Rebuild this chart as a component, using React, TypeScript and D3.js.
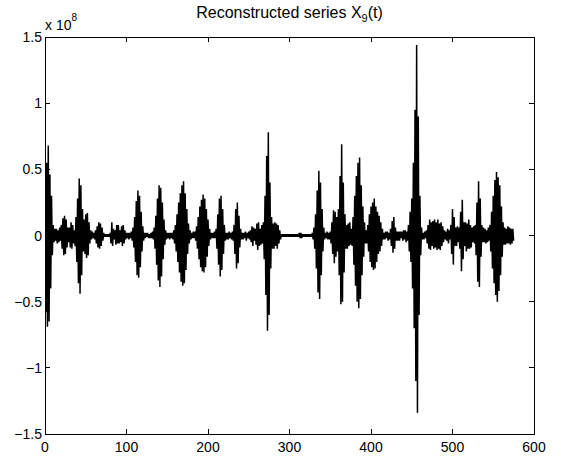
import React from "react";
import * as d3 from "d3";

// Reconstructed series values, units of 1e6, t = 0..575
const seriesX9: number[] = [
  30, -58, 55, -69, 68, -65, 46, -40, 30, -15,
  8, -5, 5, -4, 5, -6, 4, -5, 6, -4,
  8, -10, 13, -15, 15, -14, 12, -9, 6, -5,
  6, -9, 10, -10, 8, -6, 4, -8, 14, -20,
  28, -36, 43, -44, 38, -30, 20, -12, 12, -14,
  16, -17, 17, -15, 10, -6, 4, -3, 3, -2,
  2, -3, 4, -6, 7, -9, 10, -10, 9, -8,
  6, -4, 2, -1, 1, -1, 1, -1, 1, -1,
  2, -6, 10, -8, 5, -3, 4, -7, 8, -6,
  8, -6, 4, -5, 7, -8, 8, -6, 4, -3,
  2, -2, 2, -3, 2, -2, 3, -4, 6, -9,
  14, -20, 26, -30, 34, -32, 30, -24, 18, -12,
  7, -4, 2, -2, 2, -1, 2, -2, 1, -2,
  2, -2, 3, -3, 6, -10, 15, -22, 28, -34,
  38, -39, 36, -31, 25, -18, 12, -7, 4, -3,
  2, -2, 2, -3, 2, -2, 2, -3, 4, -6,
  8, -12, 16, -20, 25, -28, 32, -35, 38, -38,
  41, -36, 32, -26, 20, -14, 9, -6, 4, -3,
  2, -2, 3, -2, 3, -4, 7, -10, 14, -18,
  22, -24, 27, -27, 31, -28, 28, -24, 20, -16,
  12, -8, 5, -3, 2, -2, 2, -2, 3, -2,
  5, -10, 16, -22, 28, -31, 30, -26, 20, -14,
  8, -4, 2, -3, 2, -3, 3, -2, 2, -3,
  3, -4, 8, -14, 20, -25, 25, -21, 15, -9,
  5, -3, 2, -3, 2, -2, 3, -4, 2, -2,
  3, -3, 4, -5, 7, -8, 6, -4, 5, -7,
  9, -11, 10, -8, 5, -7, 8, -6, 10, -18,
  30, -45, 60, -72, 78, -60, 40, -25, 14, -10,
  9, -10, 10, -8, 9, -10, 8, -6, 4, -3,
  1, -1, 1, -1, 1, -1, 1, -1, 1, -1,
  1, -1, 1, -1, 1, -1, 1, -1, 1, -1,
  1, -1, 2, -2, 2, -2, 1, -1, 1, -1,
  1, -1, 1, -1, 1, -1, 1, -1, 2, -3,
  6, -10, 16, -25, 34, -43, 49, -48, 40, -30,
  20, -12, 6, -3, 2, -2, 3, -3, 2, -3,
  3, -6, 10, -14, 19, -21, 18, -16, 14, -12,
  20, -30, 45, -52, 69, -50, 40, -28, 16, -10,
  8, -10, 9, -8, 10, -7, 5, -8, 14, -22,
  30, -38, 45, -50, 55, -55, 59, -48, 38, -30,
  22, -16, 10, -6, 4, -6, 8, -12, 16, -20,
  22, -24, 25, -26, 28, -25, 22, -20, 18, -14,
  15, -12, 10, -8, 5, -3, 2, -3, 3, -2,
  3, -4, 2, -3, 5, -8, 11, -13, 14, -10,
  6, -4, 3, -4, 3, -4, 3, -2, 3, -4,
  4, -3, 4, -5, 3, -4, 8, -12, 18, -20,
  28, -40, 55, -70, 95, -110, 144, -134, 90, -60,
  30, -15, 6, -3, 2, -3, 3, -2, 4, -6,
  8, -10, 12, -11, 10, -8, 11, -10, 12, -9,
  10, -11, 12, -10, 9, -11, 10, -8, 7, -5,
  4, -3, 3, -4, 5, -6, 4, -3, 8, -14,
  20, -22, 14, -8, 6, -8, 7, -5, 6, -10,
  18, -27, 27, -18, 10, -8, 10, -12, 9, -10,
  12, -10, 8, -9, 6, -5, 7, -6, 8, -15,
  25, -35, 41, -39, 28, -16, 8, -5, 6, -5,
  5, -6, 4, -5, 6, -4, 8, -12, 18, -25,
  30, -36, 42, -45, 48, -50, 44, -42, 38, -30,
  22, -16, 10, -7, 6, -7, 5, -6, 7, -6,
  6, -7, 5, -6, 5, -4,
];

const valueUnit = 1e6;
const xTickValues = [0, 100, 200, 300, 400, 500, 600];
const yTickValues = [-1.5, -1, -0.5, 0, 0.5, 1, 1.5];
const yTickLabels = ["\u22121.5", "\u22121", "\u22120.5", "0", "0.5", "1", "1.5"];
const titleMain = "Reconstructed series X";
const titleSub = "9";
const titleTail = "(t)";

const W = 561;
const H = 459;
const left = 45;
const right = 534;
const top = 37;
const bottom = 434;
const FONT = "'Liberation Sans', Arial, Helvetica, sans-serif";

export default function App() {
  const x = d3.scaleLinear().domain([0, 600]).range([left, right]);
  const y = d3.scaleLinear().domain([-1.5e8, 1.5e8]).range([bottom, top]);
  const line = d3
    .line<number>()
    .x((_, i) => x(i))
    .y((d) => y(d * valueUnit));
  const path = line(seriesX9) || "";
  const tickLen = 5;

  return (
    <div style={{ position: "absolute", left: 0, top: 0 }}>
      <svg width={W} height={H} style={{ display: "block", background: "#fff" }}>
        <rect x={0} y={0} width={W} height={H} fill="#fff" />
        <defs>
          <clipPath id="plotClip">
            <rect x={left} y={top} width={right - left} height={bottom - top} />
          </clipPath>
        </defs>
        <path
          d={path}
          fill="none"
          stroke="#000"
          strokeWidth={1.5}
          strokeLinejoin="miter"
          strokeMiterlimit={2}
          clipPath="url(#plotClip)"
        />
        {/* axes box */}
        <rect
          x={left}
          y={top}
          width={right - left}
          height={bottom - top}
          fill="none"
          stroke="#000"
          strokeWidth={1}
          shapeRendering="crispEdges"
        />
        {/* x ticks */}
        {xTickValues.map((v) => (
          <g key={"xt" + v}>
            <line x1={x(v)} x2={x(v)} y1={bottom} y2={bottom - tickLen} stroke="#000" shapeRendering="crispEdges" />
            <line x1={x(v)} x2={x(v)} y1={top} y2={top + tickLen} stroke="#000" shapeRendering="crispEdges" />
            <text
              x={x(v)}
              y={bottom + 18}
              textAnchor="middle"
              fontFamily={FONT}
              fontSize={14}
              fill="#000"
            >
              {v}
            </text>
          </g>
        ))}
        {/* y ticks */}
        {yTickValues.map((v, i) => (
          <g key={"yt" + v}>
            <line x1={left} x2={left + tickLen} y1={y(v * 1e8)} y2={y(v * 1e8)} stroke="#000" shapeRendering="crispEdges" />
            <line x1={right} x2={right - tickLen} y1={y(v * 1e8)} y2={y(v * 1e8)} stroke="#000" shapeRendering="crispEdges" />
            <text
              x={left - 3}
              y={y(v * 1e8) + 5}
              textAnchor="end"
              fontFamily={FONT}
              fontSize={14}
              fill="#000"
            >
              {yTickLabels[i]}
            </text>
          </g>
        ))}
        {/* exponent label */}
        <text x={left} y={30} fontFamily={FONT} fontSize={14} fill="#000">
          x 10
          <tspan dy={-9} fontSize={10}>
            8
          </tspan>
        </text>
        {/* title */}
        <text
          x={(left + right) / 2}
          y={18}
          textAnchor="middle"
          fontFamily={FONT}
          fontSize={16}
          fill="#000"
        >
          {titleMain}
          <tspan dy={4} fontSize={11}>
            {titleSub}
          </tspan>
          <tspan dy={-4}>{titleTail}</tspan>
        </text>
      </svg>
    </div>
  );
}
